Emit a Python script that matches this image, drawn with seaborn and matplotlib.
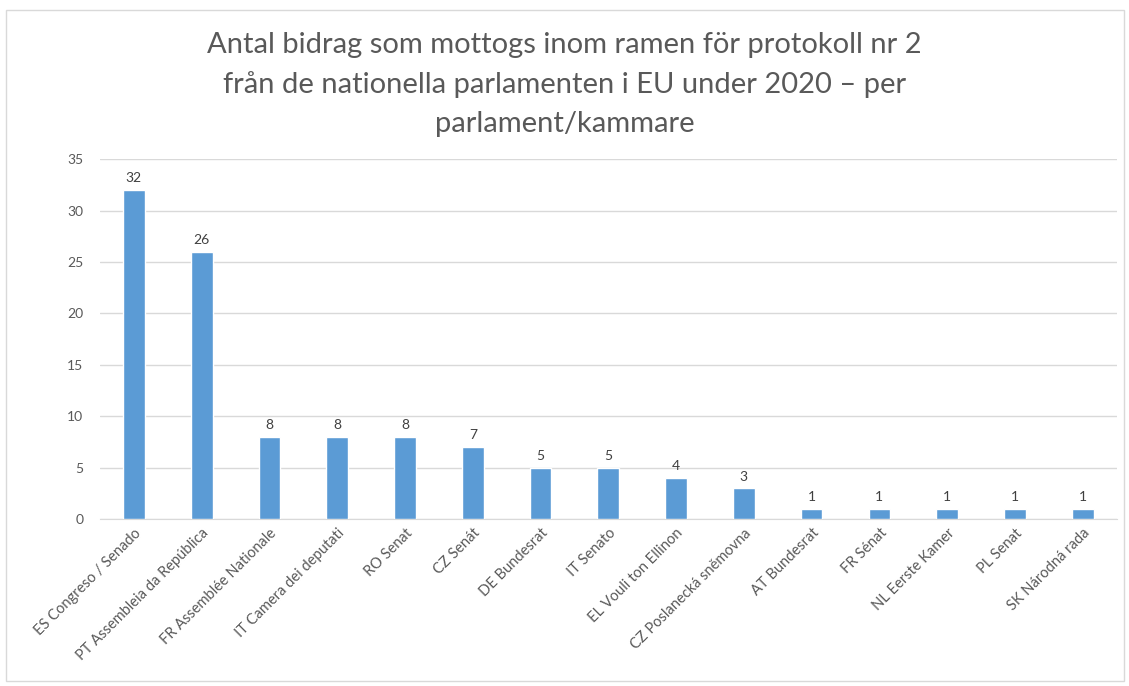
import matplotlib
matplotlib.use('Agg')
import matplotlib.pyplot as plt
import matplotlib.patches as patches
import seaborn as sns
import pandas as pd

# Chart data
parliaments = [
    'ES Congreso / Senado', 'PT Assembleia da República', 'FR Assemblée Nationale',
    'IT Camera dei deputati', 'RO Senat', 'CZ Senát', 'DE Bundesrat', 'IT Senato',
    'EL Vouli ton Ellinon', 'CZ Poslanecká sněmovna', 'AT Bundesrat', 'FR Sénat',
    'NL Eerste Kamer', 'PL Senat', 'SK Národná rada',
]
contributions = [32, 26, 8, 8, 8, 7, 5, 5, 4, 3, 1, 1, 1, 1, 1]
y_ticks = [0, 5, 10, 15, 20, 25, 30, 35]

title = ('Antal bidrag som mottogs inom ramen för protokoll nr 2\n'
         'från de nationella parlamenten i EU under 2020 – per\n'
         'parlament/kammare')

df = pd.DataFrame({'parlament': parliaments, 'bidrag': contributions})

sns.set_style('white')
plt.rcParams['font.family'] = ['Lato', 'DejaVu Sans']

fig = plt.figure(figsize=(11.29, 6.86), dpi=100)
ax = fig.add_axes([0.0886, 0.2434, 0.9004, 0.5246])

sns.barplot(data=df, x='parlament', y='bidrag', color='#5B9BD5',
            width=0.32, saturation=1, ax=ax, zorder=3)

ax.set_ylim(0, 35)
ax.set_yticks(y_ticks)
ax.set_xlim(-0.5, len(parliaments) - 0.5)
ax.yaxis.grid(True, color='#D9D9D9', linewidth=1, zorder=0)
ax.set_axisbelow(True)
for side in ['top', 'right', 'left']:
    ax.spines[side].set_visible(False)
ax.spines['bottom'].set_color('#D9D9D9')
ax.tick_params(axis='both', length=0, colors='#595959', labelsize=10)
ax.tick_params(axis='x', labelsize=10.5, pad=5)
ax.tick_params(axis='y', pad=12)
ax.set_xlabel('')
ax.set_ylabel('')
plt.setp(ax.get_xticklabels(), rotation=45, ha='right', rotation_mode='anchor')

# value labels above bars
for cont in ax.containers:
    ax.bar_label(cont, padding=4, color='#404040', fontsize=10)

fig.text(0.5, 0.954, title, ha='center', va='top', fontsize=21,
         color='#595959', linespacing=1.62)

# outer chart border
fig.patches.append(patches.Rectangle((0.005, 0.008), 0.991, 0.977,
                                     transform=fig.transFigure, fill=False,
                                     edgecolor='#D9D9D9', linewidth=1))

plt.savefig('out.png', dpi=100)
plt.close()
